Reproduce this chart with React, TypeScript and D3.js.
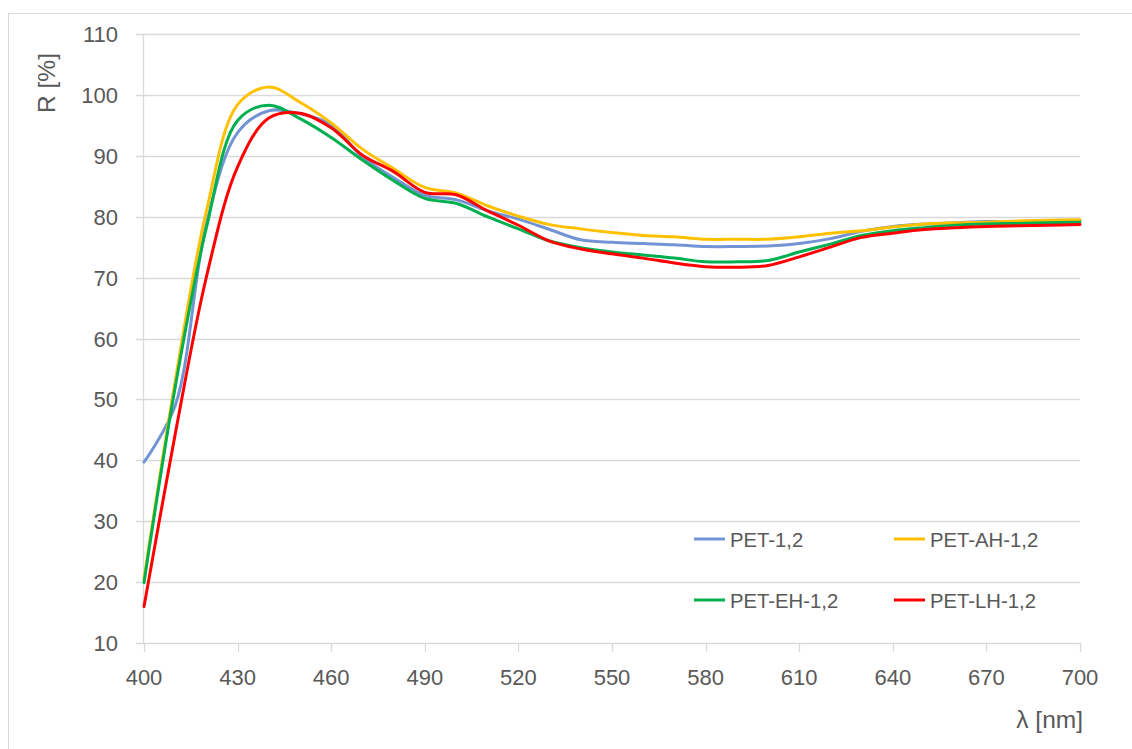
import React from "react";
import * as d3 from "d3";

const wavelengths = [400,410,420,430,440,450,460,470,480,490,500,510,520,530,540,550,560,570,580,590,600,610,620,630,640,650,660,670,680,690,700];

const pet12 = [39.7,49.0,78.8,93.8,97.4,96.9,95.1,89.8,86.4,83.5,82.8,81.0,79.6,77.9,76.2,75.8,75.6,75.4,75.1,75.1,75.2,75.6,76.4,77.6,78.4,78.8,79.0,79.2,79.2,79.3,79.3];
const petAH = [20.5,53.0,80.9,98.4,101.3,98.8,95.4,91.1,87.9,84.8,83.9,81.8,80.1,78.7,78.0,77.4,76.9,76.7,76.3,76.3,76.3,76.7,77.3,77.7,78.3,78.8,79.0,79.1,79.3,79.4,79.5];
const petEH = [19.9,52.0,78.2,95.8,98.3,96.1,93.0,89.3,85.9,83.0,82.2,80.0,78.0,76.0,74.9,74.2,73.7,73.2,72.6,72.6,72.8,74.2,75.5,76.9,77.7,78.2,78.6,78.8,78.9,79.0,79.1];
const petLH = [16.0,44.3,70.1,88.2,96.2,97.0,94.6,90.1,87.4,84.0,83.6,81.0,78.6,76.0,74.7,73.9,73.2,72.4,71.8,71.7,72.0,73.4,75.0,76.6,77.3,77.9,78.2,78.4,78.5,78.6,78.7];

const seriesNames = ["PET-1,2", "PET-AH-1,2", "PET-EH-1,2", "PET-LH-1,2"];
const seriesValues = [pet12, petAH, petEH, petLH];
const seriesColors = ["#7394d4", "#ffc000", "#00b050", "#ff0000"];

const xTicks = [400,430,460,490,520,550,580,610,640,670,700];
const yTicks = [10,20,30,40,50,60,70,80,90,100,110];

const FONT = "'Liberation Sans', Arial, sans-serif";
const TXT = "#595959";
const GRID = "#d9d9d9";

export default function App() {
  const W = 1132, H = 749;
  const x = d3.scaleLinear().domain([400, 700]).range([144, 1080]);
  const y = d3.scaleLinear().domain([10, 110]).range([643, 34]);
  const line = d3
    .line<number>()
    .x((_, i) => x(wavelengths[i]))
    .y((d) => y(d))
    .curve(d3.curveCatmullRom.alpha(0.5));

  const legendPos = [
    { lx: 694, ly: 539 },
    { lx: 894, ly: 539 },
    { lx: 694, ly: 600 },
    { lx: 894, ly: 600 },
  ];

  return (
    <svg width={W} height={H} style={{ position: "absolute", left: 0, top: 0, background: "#fff" }}>
      <rect x={8.5} y={13.5} width={1300} height={900} fill="#fff" stroke={GRID} strokeWidth={1} />
      {yTicks.map((t) => (
        <g key={"y" + t}>
          <line x1={136} x2={x(700)} y1={Math.round(y(t)) + 0.5} y2={Math.round(y(t)) + 0.5} stroke={GRID} strokeWidth={1.3} />
          <text x={118} y={y(t) + 8} textAnchor="end" fontFamily={FONT} fontSize={22} fill={TXT}>{t}</text>
        </g>
      ))}
      <line x1={143.5} x2={143.5} y1={y(110)} y2={y(10)} stroke={GRID} strokeWidth={1.3} />
      {xTicks.map((t) => (
        <g key={"x" + t}>
          <line x1={Math.round(x(t)) + 0.5} x2={Math.round(x(t)) + 0.5} y1={y(10)} y2={y(10) + 9} stroke={GRID} strokeWidth={1.3} />
          <text x={x(t)} y={685} textAnchor="middle" fontFamily={FONT} fontSize={22} fill={TXT}>{t}</text>
        </g>
      ))}
      {seriesValues.map((vals, i) => (
        <path key={seriesNames[i]} d={line(vals) || ""} fill="none" stroke={seriesColors[i]} strokeWidth={3} strokeLinejoin="round" strokeLinecap="round" />
      ))}
      {seriesNames.map((n, i) => (
        <g key={"lg" + n}>
          <line x1={legendPos[i].lx} x2={legendPos[i].lx + 31} y1={legendPos[i].ly} y2={legendPos[i].ly} stroke={seriesColors[i]} strokeWidth={3} />
          <text x={legendPos[i].lx + 36} y={legendPos[i].ly + 8} fontFamily={FONT} fontSize={20.3} fill={TXT}>{n}</text>
        </g>
      ))}
      <text transform="translate(55,83) rotate(-90)" textAnchor="middle" fontFamily={FONT} fontSize={24.5} fill={TXT}>R [%]</text>
      <text x={1083} y={728} textAnchor="end" fontFamily={FONT} fontSize={24.5} fill={TXT}>λ [nm]</text>
    </svg>
  );
}
